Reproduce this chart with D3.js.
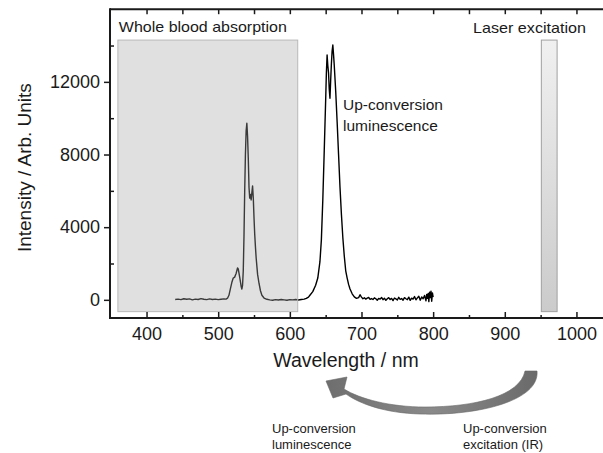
<!DOCTYPE html>
<html>
<head>
<meta charset="utf-8">
<script src="https://cdn.jsdelivr.net/npm/d3@7"></script>
<style>
  html, body { margin: 0; padding: 0; background: #fff; }
  svg { display: block; font-family: "Liberation Sans", Arial, sans-serif; }
</style>
</head>
<body>
<svg id="chart" width="603" height="453"></svg>
<script>
// ---- data ----
const wavelength = [
  440,444,448,452,456,460,464,468,472,476,480,484,488,492,496,500,504,508,511,513,
  515,517,519,521,523,525,527,528,530,532,533,534,535,536,537,538,539,540,541,542,
  543,544,545,546,547,548,549,550,551,552,553,555,557,559,561,564,568,572,576,580,
  584,588,592,596,600,604,608,612,616,620,623,626,628,632,636,639,642,644,646,648,
  650,651,652,653,654,655,656,657,658,659,660,661,662,664,666,668,670,672,674,676,
  678,680,682,684,687,690,693,696,698,700,702,704,706,708,710,712,714,716,718,720,
  722,724,726,728,730,732,734,736,738,740,742,744,746,748,750,752,754,756,758,760,
  762,764,766,768,770,772,774,776,778,780,782,784,786,788,790,791,792,793,794,795,
  796,797,798,799,800
];
const intensity = [
  20,40,10,60,30,50,0,40,20,70,30,10,50,20,40,10,30,50,40,90,
  250,600,950,1200,1250,1450,1750,1700,1250,750,590,800,1600,3500,6000,8000,9300,9720,9000,7800,
  6200,5600,5800,5500,5900,6270,5600,4500,3600,2900,2300,1400,900,500,250,100,30,0,-20,10,
  -10,20,0,-20,10,0,20,-10,20,40,80,150,250,450,800,1200,2100,3300,5500,8200,
  11000,12500,13480,12900,12500,11600,11100,12100,13000,13700,14030,13500,12900,11500,9800,8000,6200,4700,3400,2400,
  1600,1200,850,600,330,160,80,120,280,150,60,110,40,90,130,30,70,20,110,60,
  -20,80,40,130,10,90,-30,60,120,20,80,-40,100,50,-10,140,30,70,-20,120,
  60,10,150,-30,90,40,180,0,110,200,-20,160,60,240,-50,300,80,350,-100,420,
  120,480,-80,380,150
];
const xMajorTicks = [400, 500, 600, 700, 800, 900, 1000];
const xMinorTicks = [350, 450, 550, 650, 750, 850, 950, 1050];
const yMajorTicks = [0, 4000, 8000, 12000];
const yMinorTicks = [2000, 6000, 10000, 14000];
const bloodBand = [360, 611];      // nm
const laserBand = [951, 973];      // nm
const bandRange = [-650, 14300];   // intensity extent of the shaded bands

// ---- layout ----
const svg = d3.select("#chart");
const plotLeft = 110, plotTop = 9.2, plotBottom = 318, rightEnd = 603;
const x = d3.scaleLinear().domain([349, 1050]).range([plotLeft, plotLeft + 701 * 0.7165]);
const y = d3.scaleLinear().domain([-1000, 16000]).range([plotBottom, plotTop]);
const ink = "#1a1a1a";

const defs = svg.append("defs");
const lg = defs.append("linearGradient").attr("id", "laserGrad")
  .attr("x1", 0).attr("y1", 0).attr("x2", 0).attr("y2", 1);
lg.append("stop").attr("offset", "0%").attr("stop-color", "#f0f0f0");
lg.append("stop").attr("offset", "100%").attr("stop-color", "#cbcbcb");
const ag = defs.append("linearGradient").attr("id", "arrowGrad")
  .attr("x1", 0).attr("y1", 0).attr("x2", 1).attr("y2", 0);
ag.append("stop").attr("offset", "0%").attr("stop-color", "#6e6e6e");
ag.append("stop").attr("offset", "50%").attr("stop-color", "#8a8a8a");
ag.append("stop").attr("offset", "100%").attr("stop-color", "#6a6a6a");

// ---- spectrum ----
const pts = wavelength.map((w, i) => [w, intensity[i]]);
svg.append("path")
  .datum(pts)
  .attr("fill", "none")
  .attr("stroke", "#000")
  .attr("stroke-width", 1.4)
  .attr("stroke-linejoin", "round")
  .attr("d", d3.line().x(d => x(d[0])).y(d => y(d[1])));

// ---- whole blood absorption band (translucent overlay) ----
svg.append("rect")
  .attr("x", x(bloodBand[0])).attr("y", y(bandRange[1]))
  .attr("width", x(bloodBand[1]) - x(bloodBand[0]))
  .attr("height", y(bandRange[0]) - y(bandRange[1]))
  .attr("fill", "rgb(166,166,166)").attr("fill-opacity", 0.35)
  .attr("stroke", "#b8b8b8").attr("stroke-width", 1);
svg.append("text")
  .attr("x", x(bloodBand[0]) + 1).attr("y", 32)
  .attr("font-size", 15).attr("fill", ink)
  .attr("textLength", 168).attr("lengthAdjust", "spacingAndGlyphs")
  .text("Whole blood absorption");

// ---- laser band ----
svg.append("rect")
  .attr("x", x(laserBand[0])).attr("y", y(bandRange[1]))
  .attr("width", x(laserBand[1]) - x(laserBand[0]))
  .attr("height", y(bandRange[0]) - y(bandRange[1]))
  .attr("fill", "url(#laserGrad)")
  .attr("stroke", "#a0a0a0").attr("stroke-width", 1);
svg.append("text")
  .attr("x", 473).attr("y", 33)
  .attr("font-size", 15).attr("fill", ink)
  .attr("textLength", 113).attr("lengthAdjust", "spacingAndGlyphs")
  .text("Laser excitation");

// ---- in-plot label ----
const ucl = svg.append("text").attr("font-size", 15.5).attr("fill", ink);
ucl.append("tspan").attr("x", 343).attr("y", 110).text("Up-conversion");
ucl.append("tspan").attr("x", 343).attr("y", 131).text("luminescence");

// ---- axes ----
function styleAxis(g) {
  g.selectAll(".domain").attr("stroke", ink).attr("stroke-width", 2);
  g.selectAll(".tick line").attr("stroke", ink).attr("stroke-width", 1.5);
  g.selectAll(".tick text").attr("fill", ink).attr("font-size", 18)
    .attr("font-family", "'Liberation Sans', Arial, sans-serif");
}
const fmt = d3.format("d");
// bottom axis
const gx = svg.append("g").attr("transform", `translate(0,${plotBottom})`)
  .call(d3.axisBottom(x).tickValues(xMajorTicks).tickFormat(fmt).tickSize(-6).tickPadding(9).tickSizeOuter(0))
  .call(styleAxis);
gx.select(".domain").attr("d", `M${plotLeft},0H${rightEnd}`);
svg.append("g").attr("transform", `translate(0,${plotBottom})`)
  .call(d3.axisBottom(x).tickValues(xMinorTicks.filter(v => x(v) > plotLeft + 2)).tickSize(-3).tickFormat(""))
  .call(styleAxis).select(".domain").remove();
// top axis (ticks only)
const gt = svg.append("g").attr("transform", `translate(0,${plotTop})`)
  .call(d3.axisTop(x).tickValues(xMajorTicks.concat(xMinorTicks).filter(v => x(v) > plotLeft + 2)).tickSize(-5).tickFormat(""))
  .call(styleAxis);
gt.select(".domain").attr("d", `M${plotLeft},0H${rightEnd}`);
// left axis
const gy = svg.append("g").attr("transform", `translate(${plotLeft},0)`)
  .call(d3.axisLeft(y).tickValues(yMajorTicks).tickFormat(fmt).tickSize(6).tickPadding(4).tickSizeOuter(0))
  .call(styleAxis);
gy.select(".domain").attr("d", `M0,${plotTop - 1}V${plotBottom + 1}`);
svg.append("g").attr("transform", `translate(${plotLeft},0)`)
  .call(d3.axisLeft(y).tickValues(yMinorTicks).tickSize(-4).tickFormat(""))
  .call(styleAxis).select(".domain").remove();

// axis titles
svg.append("text")
  .attr("transform", `translate(31,${(plotTop + plotBottom) / 2 + 4}) rotate(-90)`)
  .attr("text-anchor", "middle").attr("font-size", 19).attr("fill", ink)
  .text("Intensity / Arb. Units");
svg.append("text")
  .attr("x", 346).attr("y", 367).attr("text-anchor", "middle")
  .attr("font-size", 19.5).attr("fill", ink)
  .text("Wavelength / nm");

// ---- curved arrow (excitation -> luminescence) ----
const arrowPath = [
  "M537,371",
  "C540,400 480,416 420,414",
  "C385,413 360,404 346,394",
  "L333,398",
  "L326,381",
  "L347,377",
  "L344,389",
  "C360,399 390,407 425,407",
  "C475,407 520,396 525,371",
  "Z"
].join(" ");
svg.append("path").attr("d", arrowPath)
  .attr("fill", "url(#arrowGrad)").attr("stroke", "#666").attr("stroke-width", 0.6);

// ---- bottom captions ----
const c1 = svg.append("text").attr("font-size", 13).attr("fill", ink);
c1.append("tspan").attr("x", 272).attr("y", 433).text("Up-conversion");
c1.append("tspan").attr("x", 272).attr("y", 449).text("luminescence");
const c2 = svg.append("text").attr("font-size", 13).attr("fill", ink);
c2.append("tspan").attr("x", 463).attr("y", 433).text("Up-conversion");
c2.append("tspan").attr("x", 463).attr("y", 449).text("excitation (IR)");
</script>
</body>
</html>
